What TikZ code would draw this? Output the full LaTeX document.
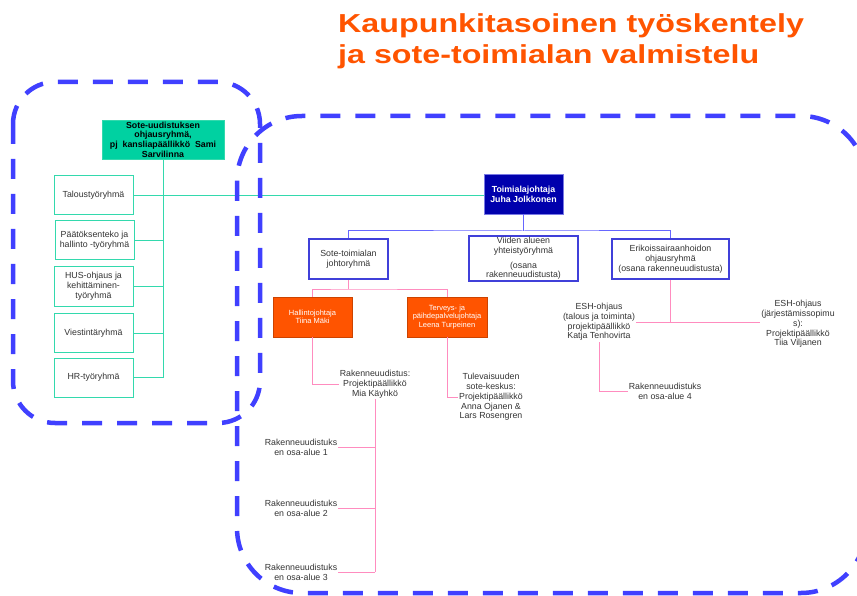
\documentclass[tikz,border=0pt]{standalone}
\usepackage{fontspec}
\setmainfont{Liberation Sans}
\newfontfamily\titlefont[FakeStretch=1.24]{Liberation Sans}
\usetikzlibrary{positioning}
\definecolor{dashblue}{rgb}{0.25,0.25,1.0}
\definecolor{sotegreen}{rgb}{0.0,0.82,0.63}
\definecolor{tealline}{rgb}{0.2,0.85,0.68}
\definecolor{juhablue}{rgb}{0.0,0.0,0.68}
\definecolor{boxblue}{rgb}{0.25,0.25,0.85}
\definecolor{lineblue}{rgb}{0.4,0.4,1.0}
\definecolor{titleorange}{rgb}{1.0,0.33,0.0}
\definecolor{linkpink}{rgb}{1.0,0.55,0.75}
\definecolor{textgrey}{rgb}{0.2,0.2,0.2}

\begin{document}
\begin{tikzpicture}[x=1pt, y=-1pt,
	txt/.style={font=\fontsize{8.8}{9.8}\selectfont, align=center, text=textgrey, inner sep=1pt},
	tealbox/.style={txt, draw=tealline, line width=1pt, fill=white, minimum width=79pt, minimum height=39pt},
	bluebox/.style={txt, draw=boxblue, line width=1.6pt, fill=white, minimum height=40pt},
	orangebox/.style={draw=titleorange!80!black, fill=titleorange, text=white, font=\fontsize{7.5}{8.4}\selectfont, align=center, inner sep=1pt, minimum width=79pt, minimum height=40pt},
	tealedge/.style={draw=tealline, line width=1pt},
	blueedge/.style={draw=lineblue, line width=1pt},
	pinkedge/.style={draw=linkpink, line width=1pt},
	dashbox/.style={draw=dashblue, line width=4.5pt, dash pattern=on 20pt off 15pt}]

	\useasboundingbox (0,0) rectangle (857,596);

	\node[anchor=north west, inner sep=0, align=left, text=titleorange, font=\titlefont\bfseries\fontsize{26}{31}\selectfont] (otsikko) at (338,13) {Kaupunkitasoinen työskentely\\ja sote-toimialan valmistelu};

	% ohjausryhma ja tyoryhmat
	\node[txt, fill=sotegreen, draw=tealline, text=black, font=\bfseries\fontsize{8.8}{9.6}\selectfont, minimum width=122pt, minimum height=39pt] (ohjaus) at (163,139.5) {Sote-uudistuksen\\ohjausryhmä,\\pj\ \ kansliapäällikkö\ \ Sami\\Sarvilinna};
	\node[tealbox] (talous) at (93.5,195.5) {Taloustyöryhmä};
	\node[tealbox] (paatos) at (94.5,240.5) {Päätöksenteko ja\\hallinto -työryhmä};
	\node[tealbox] (hus) at (93.5,286.5) {HUS-ohjaus ja\\kehittäminen-\\työryhmä};
	\node[tealbox] (viestinta) at (93.5,333) {Viestintäryhmä};
	\node[tealbox] (hr) at (93.5,377.5) {HR-työryhmä};

	% toimiala
	\node[txt, fill=juhablue, draw=boxblue!70!white, text=white, font=\bfseries\fontsize{8.8}{9.8}\selectfont, minimum width=79pt, minimum height=40pt] (toimiala) at (523.5,194) {Toimialajohtaja\\Juha Jolkkonen};
	\node[bluebox, minimum width=79pt] (johto) at (348.5,259) {Sote-toimialan\\johtoryhmä};
	\node[bluebox, minimum width=109pt] (viiden) at (523.5,258.5) {Viiden alueen\\yhteistyöryhmä\\[5pt](osana\\rakenneuudistusta)};
	\node[bluebox, minimum width=117pt] (erikois) at (670.5,259) {Erikoissairaanhoidon\\ohjausryhmä\\(osana rakenneuudistusta)};
	\coordinate (bluebus) at (523.5,231);

	\node[orangebox] (hallinto) at (312.5,317) {Hallintojohtaja\\Tiina Mäki};
	\node[orangebox, minimum width=80pt] (terveys) at (447,317) {Terveys- ja\\päihdepalvelujohtaja\\Leena Turpeinen};
	\coordinate (pinkbus) at (348.5,289);

	\node[txt] (mia) at (375,384) {Rakenneuudistus:\\Projektipäällikkö\\Mia Käyhkö};
	\node[txt] (anna) at (491,397) {Tulevaisuuden\\sote-keskus:\\Projektipäällikkö\\Anna Ojanen \&\\Lars Rosengren};
	\node[txt] (alue1) at (301,447) {Rakenneuudistuks\\en osa-alue 1};
	\node[txt] (alue2) at (301,508) {Rakenneuudistuks\\en osa-alue 2};
	\node[txt] (alue3) at (301,572) {Rakenneuudistuks\\en osa-alue 3};

	\node[txt] (katja) at (599,322) {ESH-ohjaus\\(talous ja toiminta)\\projektipäällikkö\\Katja Tenhovirta};
	\node[txt] (tiia) at (798,324) {ESH-ohjaus\\(järjestämissopimu\\s):\\Projektipäällikkö\\Tiia Viljanen};
	\node[txt] (alue4) at (665,391) {Rakenneuudistuks\\en osa-alue 4};

	% yhteydet
	\draw[tealedge] (ohjaus.south) -- (ohjaus.south |- hr.east) -- (hr.east);
	\foreach \ryhma in {paatos,hus,viestinta}
		\draw[tealedge] (\ryhma.east) -- (\ryhma.east -| ohjaus.south);
	\draw[tealedge] (talous.east) -- (talous.east -| toimiala.west);

	\draw[blueedge] (toimiala.south) -- (bluebus);
	\draw[blueedge] (johto.north) |- (bluebus) -| (erikois.north);

	\draw[pinkedge] (johto.south) -- (pinkbus);
	\draw[pinkedge] (hallinto.north) |- (pinkbus) -| (terveys.north);
	\draw[pinkedge] (hallinto.south) |- (mia.west);
	\draw[pinkedge] (terveys.south) |- (anna.west);
	\draw[pinkedge] (mia.south) -- (mia.south |- alue3.east);
	\foreach \alue in {alue1,alue2,alue3}
		\draw[pinkedge] (\alue.east) -- (\alue.east -| mia.south);
	\draw[pinkedge] (erikois.south) -- (erikois.south |- katja.east);
	\draw[pinkedge] (katja.east) -- (katja.east -| tiia.west);
	\draw[pinkedge] (katja.south) |- (alue4.west);

	% katkoviivarajat
	\draw[dashbox, rounded corners=42pt] (13,82) rectangle (260,423);
	\draw[dashbox, rounded corners=65pt] (237,116) rectangle (866,593);

\end{tikzpicture}
\end{document}
